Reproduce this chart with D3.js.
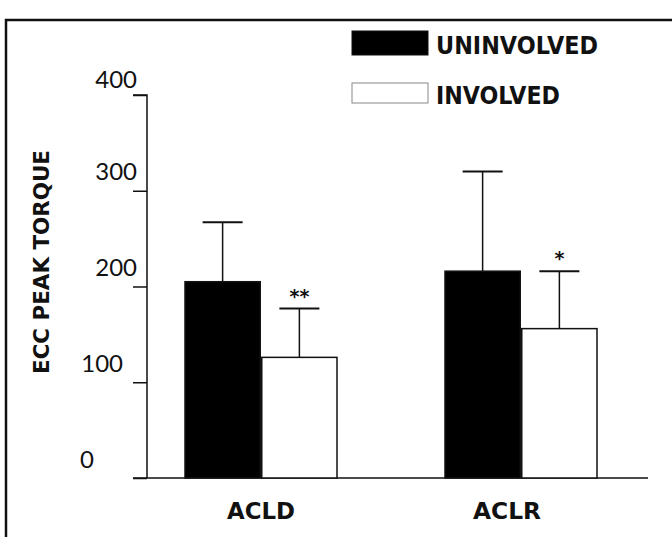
<!DOCTYPE html>
<html>
<head>
<meta charset="utf-8">
<script src="https://cdn.jsdelivr.net/npm/d3@7"></script>
<style>
  body { margin: 0; background: #fff; }
  svg { display: block; }
  text { fill: #111; }
</style>
</head>
<body>
<svg id="chart" width="672" height="537"></svg>
<script>
// chart data
const groups = ["ACLD", "ACLR"];
const series = ["UNINVOLVED", "INVOLVED"];
const uninvolvedMean = [205, 216];
const uninvolvedSD = [62, 104];
const involvedMean = [126, 156];
const involvedSD = [51, 60];
const signif = ["**", "*"];   // marks over the involved bars
const yTicks = [0, 100, 200, 300, 400];

const svg = d3.select("#chart");
const W = +svg.attr("width"), H = +svg.attr("height");

// rows for drawing
const rows = [];
groups.forEach((g, i) => {
    rows.push({ group: g, key: series[0], mean: uninvolvedMean[i], sd: uninvolvedSD[i] });
    rows.push({ group: g, key: series[1], mean: involvedMean[i], sd: involvedSD[i], mark: signif[i] });
});

const y = d3.scaleLinear().domain([0, 400]).range([478, 95]);
const x0 = d3.scalePoint().domain(groups).range([261, 521]);
const x1 = d3.scaleBand().domain(series).range([-76, 76]).paddingInner(0.02);
const fill = d3.scaleOrdinal().domain(series).range(["#000", "#fff"]);

// frame (only top and left edges survive in the scan)
svg.append("path")
    .attr("d", `M6,${H} V20 H${W}`)
    .attr("fill", "none")
    .attr("stroke", "#111")
    .attr("stroke-width", 2.5);

// y axis; the printed labels are set a bit irregularly
const labelShift = d => d === 0 ? -53 : d === 100 ? -24 : -10;
const yAxis = svg.append("g")
    .attr("transform", "translate(147,0)")
    .call(d3.axisLeft(y).tickValues(yTicks).tickSize(14).tickPadding(0).tickFormat(d3.format("d")));
yAxis.select(".domain").attr("stroke", "#111").attr("stroke-width", 1.5).attr("d", `M-14,${y(400)}H0V${y(0)}`);
yAxis.selectAll(".tick line").attr("stroke", "#111").attr("stroke-width", 1.5);
yAxis.selectAll(".tick text")
    .attr("font-family", "Lato, 'Noto Sans', sans-serif")
    .attr("font-size", 24)
    .attr("fill", "#111")
    .attr("dy", d => d === 400 ? "-0.3em" : "-0.45em")
    .attr("x", labelShift);

// baseline
svg.append("line")
    .attr("x1", 133).attr("x2", 648)
    .attr("y1", y(0)).attr("y2", y(0))
    .attr("stroke", "#111").attr("stroke-width", 1.5);

// y title
svg.append("text")
    .attr("transform", `translate(49,262) rotate(-90)`)
    .attr("text-anchor", "middle")
    .attr("font-family", "'DejaVu Sans', sans-serif")
    .attr("font-weight", "bold")
    .attr("font-size", 22)
    .attr("textLength", 224)
    .attr("lengthAdjust", "spacingAndGlyphs")
    .text("ECC PEAK TORQUE");

// bars
const bar = svg.selectAll(".bar")
    .data(rows)
    .enter()
    .append("g")
    .attr("class", "bar")
    .attr("transform", d => `translate(${x0(d.group) + x1(d.key)},0)`);

// error bars (upper half only)
bar.append("line")
    .attr("x1", x1.bandwidth() / 2).attr("x2", x1.bandwidth() / 2)
    .attr("y1", d => y(d.mean)).attr("y2", d => y(d.mean + d.sd))
    .attr("stroke", "#111").attr("stroke-width", 1.5);
bar.append("line")
    .attr("x1", x1.bandwidth() / 2 - 20).attr("x2", x1.bandwidth() / 2 + 20)
    .attr("y1", d => y(d.mean + d.sd)).attr("y2", d => y(d.mean + d.sd))
    .attr("stroke", "#111").attr("stroke-width", 2);

bar.append("rect")
    .attr("x", 0)
    .attr("width", x1.bandwidth())
    .attr("y", d => y(d.mean))
    .attr("height", d => y(0) - y(d.mean))
    .attr("fill", d => fill(d.key))
    .attr("stroke", "#111")
    .attr("stroke-width", 1.5);

bar.filter(d => d.mark)
    .append("text")
    .attr("x", x1.bandwidth() / 2)
    .attr("y", d => y(d.mean + d.sd) - 6)
    .attr("text-anchor", "middle")
    .attr("font-family", "'DejaVu Sans', sans-serif")
    .attr("font-weight", "bold")
    .attr("font-size", 19)
    .text(d => d.mark);

// x labels
svg.selectAll(".xlab")
    .data(groups)
    .enter()
    .append("text")
    .attr("class", "xlab")
    .attr("x", (d, i) => x0(d) - (i === 1 ? 14 : 0))
    .attr("y", 519)
    .attr("text-anchor", "middle")
    .attr("font-family", "'DejaVu Sans', sans-serif")
    .attr("font-weight", "bold")
    .attr("font-size", 23)
    .attr("textLength", 68)
    .attr("lengthAdjust", "spacingAndGlyphs")
    .text(d => d);

// legend
const legend = svg.selectAll(".legend")
    .data(series)
    .enter()
    .append("g")
    .attr("class", "legend")
    .attr("transform", (d, i) => `translate(352,${i === 0 ? 31 : 83})`);

legend.append("rect")
    .attr("width", 76)
    .attr("height", (d, i) => i === 0 ? 24 : 20)
    .attr("fill", d => fill(d))
    .attr("stroke", (d, i) => i === 0 ? "#111" : "#888")
    .attr("stroke-width", 1);

legend.append("text")
    .attr("x", 84)
    .attr("y", (d, i) => i === 0 ? 23 : 21)
    .attr("font-family", "'DejaVu Sans', sans-serif")
    .attr("font-weight", "bold")
    .attr("font-size", 25)
    .attr("textLength", (d, i) => i === 0 ? 162 : 124)
    .attr("lengthAdjust", "spacingAndGlyphs")
    .text(d => d);
</script>
</body>
</html>
